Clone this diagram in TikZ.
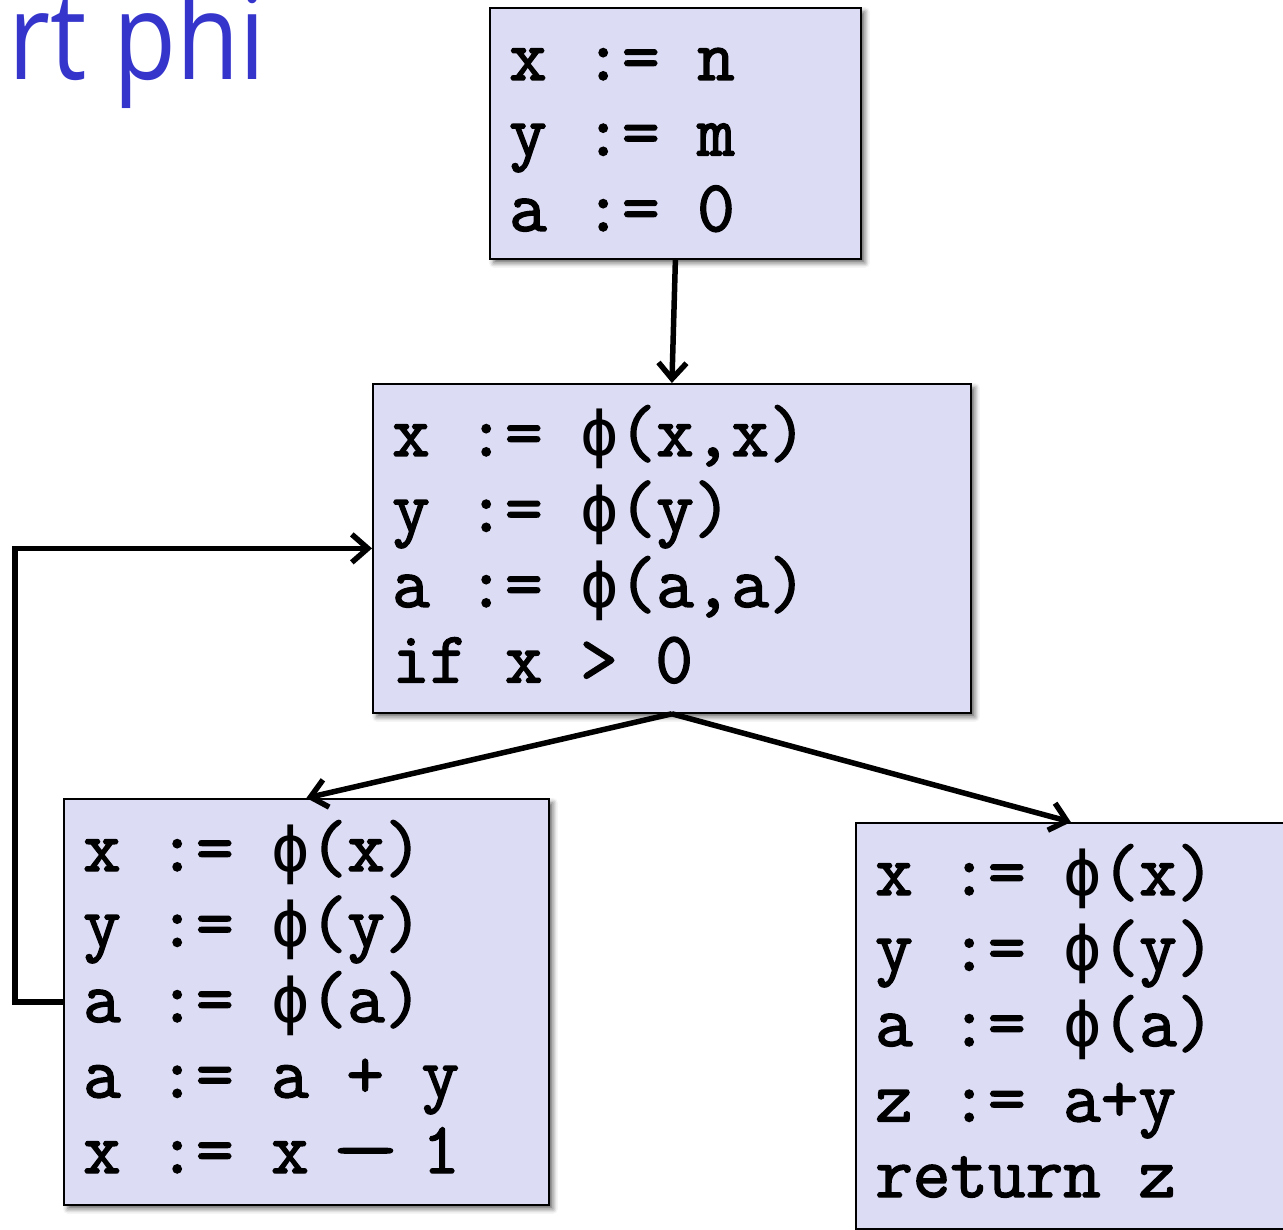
\documentclass[tikz,border=0pt]{standalone}
\usepackage{fontspec}
\newfontfamily\codefont{Latin Modern Mono}[FakeBold=2]
\newfontfamily\titlefont{Open Sans}[FakeStretch=0.85]
\newfontfamily\phifont{DejaVu Sans Mono}[Scale=0.875]
\usetikzlibrary{arrows.meta,shadows.blur}
\definecolor{boxfill}{RGB}{220,220,245}
\definecolor{titleblue}{RGB}{53,53,204}
\newcommand\fy{{\phifont ϕ}}
\newcommand\wdash{\makebox[0.525em]{\scalebox{1.8}[1]{–}}}
\begin{document}
\begin{tikzpicture}[x=1pt,y=-1pt,
  cfgbox/.style={draw=black, line width=1.8pt, fill=boxfill, inner sep=0pt, anchor=north west,
    blur shadow={shadow xshift=4pt, shadow yshift=-4pt, shadow blur radius=5pt, shadow opacity=60}},
  code/.style={inner sep=0pt, anchor=base west, font=\codefont\fontsize{73}{75.5}\selectfont},
  conn/.style={line width=5.5pt, -{Straight Barb[length=16pt,width=28pt]}},
  titletext/.style={inner sep=0pt, anchor=base west, text=titleblue, font=\titlefont\fontsize{121}{121}\selectfont}]
\useasboundingbox (0,0) rectangle (1283,1230);

\node[titletext] (title) at (8,80) {rt phi};

\node[cfgbox, minimum width=371pt, minimum height=251pt] (A) at (489,7) {};
\node[cfgbox, minimum width=598pt, minimum height=329pt] (B) at (372,383) {};
\node[cfgbox, minimum width=485pt, minimum height=406pt] (C) at (63,798) {};
\node[cfgbox, minimum width=430pt, minimum height=406pt] (D) at (855,822) {};

\foreach [count=\i] \t in {{x := n},{y := m},{a := 0}}
  \node[code] (A\i) at (509,{80+75.5*(\i-1)}) {\t};
\foreach [count=\i] \t in {{x := \fy(x,x)},{y := \fy(y)},{a := \fy(a,a)},{if x > 0}}
  \node[code] (B\i) at (392,{456+75.5*(\i-1)}) {\t};
\foreach [count=\i] \t in {{x := \fy(x)},{y := \fy(y)},{a := \fy(a)},{a := a + y},{x := x \wdash{} 1}}
  \node[code] (C\i) at (83,{871+75.5*(\i-1)}) {\t};
\foreach [count=\i] \t in {{x := \fy(x)},{y := \fy(y)},{a := \fy(a)},{z := a+y},{return z}}
  \node[code] (D\i) at (875,{895+75.5*(\i-1)}) {\t};

\coordinate (loopx) at (15,0);
\draw[conn] (A.south) -- (B.north);
\draw[conn] (B.south) -- (C.north);
\draw[conn] (B.south) -- (D.north);
\draw[conn] (C.west) -- (C.west -| loopx) |- (B.west);
\end{tikzpicture}
\end{document}
